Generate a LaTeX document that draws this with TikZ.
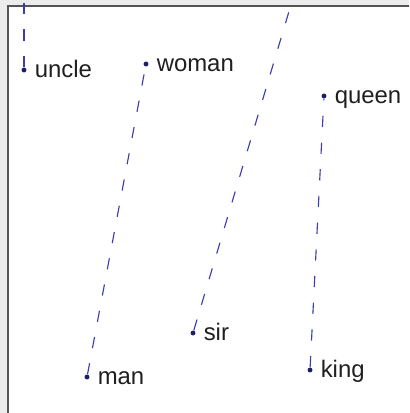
\documentclass[tikz,border=0pt]{standalone}
\usepackage{fontspec}
\setmainfont{Liberation Sans}
\usetikzlibrary{positioning}
\definecolor{vecblue}{RGB}{60,60,175}
\definecolor{dotblue}{RGB}{30,30,100}
\definecolor{framegray}{RGB}{85,85,85}
\definecolor{outgray}{RGB}{236,236,236}

\begin{document}
\begin{tikzpicture}[x=0.025cm, y=-0.025cm,
  dot/.style={circle, fill=dotblue, inner sep=0pt, minimum size=3.5pt},
  word/.style={inner sep=0pt, text height=1em, text depth=0pt, font=\fontsize{17}{19}\selectfont, text=black!88},
  diff/.style={vecblue, dash pattern=on 8pt off 11pt, line width=0.8pt}]
  % Marco
  \useasboundingbox (0,0) rectangle (409,413);
  \clip (0,0) rectangle (409,413);
  \fill[outgray] (0,0) rectangle (409,413);
  \filldraw[fill=white, draw=framegray, line width=1.1pt] (8,6) rectangle (430,430);

  % Puntos
  \node[dot] (uncle) at (24,70) {};
  \node[dot] (woman) at (146,64) {};
  \node[dot] (man)   at (87,377) {};
  \node[dot] (sir)   at (193,333) {};
  \node[dot] (queen) at (324,96) {};
  \node[dot] (king)  at (310,370) {};
  \coordinate (uncletop) at (24,-2);
  \coordinate (sirtop) at (293,-2);

  % Etiquetas
  \node[word, right=5.5pt of uncle] (uncle-l) {uncle};
  \node[word, right=5.5pt of woman] (woman-l) {woman};
  \node[word, right=5.5pt of man]   (man-l)   {man};
  \node[word, right=5.5pt of sir]   (sir-l)   {sir};
  \node[word, right=5.5pt of queen] (queen-l) {queen};
  \node[word, right=5.5pt of king]  (king-l)  {king};

  % Diferencias
  \draw[diff] (uncle) -- (uncletop);
  \draw[diff] (man) -- (woman);
  \draw[diff] (sir) -- (sirtop);
  \draw[diff] (king) -- (queen);
\end{tikzpicture}
\end{document}
